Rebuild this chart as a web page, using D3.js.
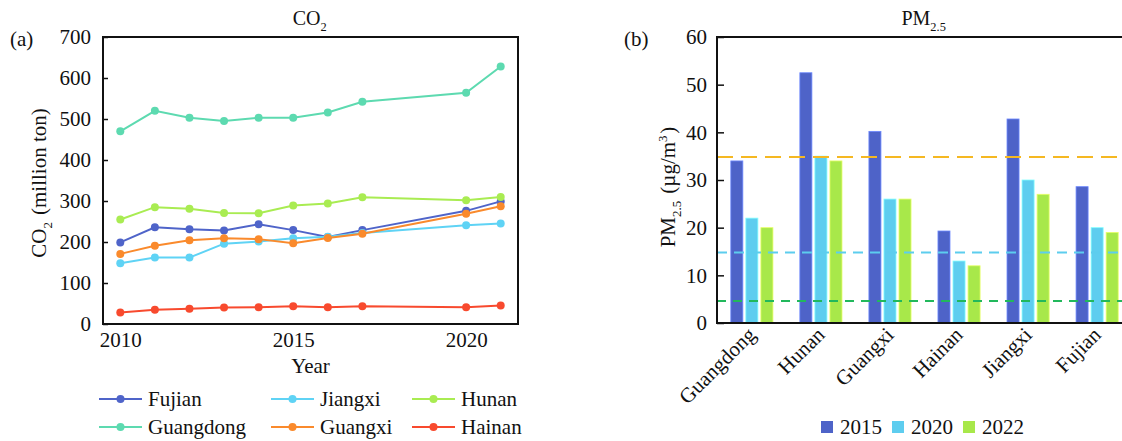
<!DOCTYPE html>
<html>
<head>
<meta charset="utf-8">
<script src="https://cdn.jsdelivr.net/npm/d3@7"></script>
<style>
  body { margin: 0; background: #fff; }
  svg text { font-family: "Liberation Serif", "Times New Roman", serif !important; fill: #111; }
</style>
</head>
<body>
<svg id="chart" width="1122" height="441"></svg>
<script>
// ---- Panel (a): CO2 emissions by province ----
const years = [2010, 2011, 2012, 2013, 2014, 2015, 2016, 2017, 2020, 2021];
const fujian    = [199, 236, 231, 228, 243, 229, 212, 229, 276, 299];
const jiangxi   = [148, 162, 162, 196, 201, 209, 213, 222, 241, 245];
const hunan     = [255, 285, 281, 271, 270, 289, 294, 309, 302, 310];
const guangdong = [470, 520, 503, 495, 503, 503, 516, 542, 564, 628];
const guangxi   = [171, 191, 204, 209, 207, 197, 210, 220, 269, 287];
const hainan    = [28, 35, 37, 40, 41, 43, 41, 43, 41, 45];
const provinces = ["Fujian", "Jiangxi", "Hunan", "Guangdong", "Guangxi", "Hainan"];
const provinceColors = ["#4f64c9", "#5fd3f5", "#a9ec52", "#5ddab0", "#fa8a2c", "#f84a2e"];
const co2Ticks = [0, 100, 200, 300, 400, 500, 600, 700];
const yearTicks = [2010, 2015, 2020];

// ---- Panel (b): PM2.5 concentration by province ----
const pmCities = ["Guangdong", "Hunan", "Guangxi", "Hainan", "Jiangxi", "Fujian"];
const pmYears = ["2015", "2020", "2022"];
const pm2015 = [34, 52.5, 40.2, 19.3, 42.8, 28.6];
const pm2020 = [22, 35, 26, 13, 30, 20];
const pm2022 = [20, 34, 26, 12, 27, 19];
const pmYearColors = ["#4e63c8", "#5ecdef", "#a8e84a"];
const pmTicks = [0, 10, 20, 30, 40, 50, 60];
const guideValues = [34.8, 14.8, 4.6];
const guideColors = ["#f5b822", "#5ccdee", "#22b85c"];

const svg = d3.select("#chart");
const FS = 21;
const SERIF = '"Liberation Serif", "Times New Roman", serif';

// helper: text with a subscript/superscript run
function richText(sel, parts, size) {
  sel.style("font-family", SERIF);
  parts.forEach(p => {
    if (p.sub) {
      sel.append("tspan").attr("font-size", size * 0.62).attr("dy", size * 0.28).text(p.t);
      sel.append("tspan").attr("font-size", size).attr("dy", -size * 0.28).text("\u200A");
    } else if (p.sup) {
      sel.append("tspan").attr("font-size", size * 0.62).attr("dy", -size * 0.38).text(p.t);
      sel.append("tspan").attr("font-size", size).attr("dy", size * 0.38).text("\u200A");
    } else {
      sel.append("tspan").attr("font-size", size).text(p.t);
    }
  });
}

function styleAxisText(g) {
  g.attr("font-family", null);
  g.selectAll("text")
    .attr("font-size", FS)
    .style("font-family", SERIF)
    .style("fill", "#111");
}

// ================= Panel (a) =================
const A = { left: 103, right: 518, top: 37, bottom: 324 };
const xA = d3.scaleLinear().domain([2009.5, 2021.5]).range([A.left, A.right]);
const yA = d3.scaleLinear().domain([0, 700]).range([A.bottom, A.top]);

const gA = svg.append("g");

const seriesA = [fujian, jiangxi, hunan, guangdong, guangxi, hainan];
const line = d3.line().x((d, i) => xA(years[i])).y(d => yA(d));

seriesA.forEach((vals, k) => {
  gA.append("path").datum(vals)
    .attr("d", line)
    .attr("fill", "none")
    .attr("stroke", provinceColors[k])
    .attr("stroke-width", 2);
  gA.selectAll(null).data(vals).enter().append("circle")
    .attr("cx", (d, i) => xA(years[i]))
    .attr("cy", d => yA(d))
    .attr("r", 4)
    .attr("fill", provinceColors[k]);
});

// y axis (inward ticks)
const yAxisA = d3.axisLeft(yA).tickValues(co2Ticks).tickSize(-5).tickPadding(12);
gA.append("g").attr("transform", `translate(${A.left},0)`).call(yAxisA)
  .call(g => g.select(".domain").remove())
  .call(g => g.selectAll(".tick line").attr("stroke", "#111").attr("stroke-width", 1.5))
  .call(styleAxisText);

// x axis labels
const xAxisA = d3.axisBottom(xA).tickValues(yearTicks).tickFormat(d3.format("d")).tickSize(0).tickPadding(8);
gA.append("g").attr("transform", `translate(0,${A.bottom})`).call(xAxisA)
  .call(g => g.select(".domain").remove())
  .call(styleAxisText);

// frame
gA.append("rect").attr("x", A.left).attr("y", A.top)
  .attr("width", A.right - A.left).attr("height", A.bottom - A.top)
  .attr("fill", "none").attr("stroke", "#111").attr("stroke-width", 2);

// titles
richText(gA.append("text").attr("x", (A.left + A.right) / 2).attr("y", 25).attr("text-anchor", "middle"),
  [{ t: "CO" }, { t: "2", sub: true }], 20);
gA.append("text").attr("x", 10).attr("y", 46).attr("font-size", FS).style("font-family", SERIF).text("(a)");
gA.append("text").attr("x", (A.left + A.right) / 2).attr("y", 373).attr("text-anchor", "middle")
  .attr("font-size", FS).style("font-family", SERIF).text("Year");
richText(gA.append("text").attr("transform", `translate(46,183) rotate(-90)`).attr("text-anchor", "middle"),
  [{ t: "CO" }, { t: "2", sub: true }, { t: " (million ton)" }], FS);

// legend
const legendA = gA.append("g");
const legCols = [99, 271, 412];
const legRows = [399, 427];
provinces.forEach((name, k) => {
  const lx = legCols[k % 3], ly = legRows[Math.floor(k / 3)];
  const item = legendA.append("g").attr("transform", `translate(${lx},${ly})`);
  item.append("line").attr("x1", 0).attr("x2", 43).attr("y1", 0).attr("y2", 0)
    .attr("stroke", provinceColors[k]).attr("stroke-width", 2);
  item.append("circle").attr("cx", 21.5).attr("cy", 0).attr("r", 4).attr("fill", provinceColors[k]);
  item.append("text").attr("x", 49).attr("y", 7).attr("font-size", FS).style("font-family", SERIF).text(name);
});

// ================= Panel (b) =================
const B = { left: 717, right: 1132, top: 37, bottom: 323 };
const x0 = d3.scaleBand().domain(pmCities).range([B.left, B.right]).paddingInner(0.39).paddingOuter(0.2);
const x1 = d3.scaleBand().domain(pmYears).range([0, x0.bandwidth()]).paddingInner(0.2).paddingOuter(0);
const yB = d3.scaleLinear().domain([0, 60]).range([B.bottom, B.top]);

const gB = svg.append("g");
const pmSeries = [pm2015, pm2020, pm2022];

pmCities.forEach((city, i) => {
  const grp = gB.append("g").attr("transform", `translate(${x0(city)},0)`);
  pmYears.forEach((yr, j) => {
    const v = pmSeries[j][i];
    grp.append("rect")
      .attr("x", x1(yr)).attr("y", yB(v))
      .attr("width", x1.bandwidth()).attr("height", yB(0) - yB(v))
      .attr("fill", pmYearColors[j])
      .attr("stroke", d3.color(pmYearColors[j]).brighter(0.9))
      .attr("stroke-width", 0.8);
  });
});

// guideline dashed lines
const guideDash = ["16,8", "10,7", "9,7"];
guideValues.forEach((v, k) => {
  gB.append("line").attr("x1", B.left).attr("x2", B.right)
    .attr("y1", yB(v)).attr("y2", yB(v))
    .attr("stroke", guideColors[k]).attr("stroke-width", 2)
    .attr("stroke-dasharray", guideDash[k]);
});

// y axis
const yAxisB = d3.axisLeft(yB).tickValues(pmTicks).tickSize(-7).tickPadding(10);
gB.append("g").attr("transform", `translate(${B.left},0)`).call(yAxisB)
  .call(g => g.select(".domain").remove())
  .call(g => g.selectAll(".tick line").attr("stroke", "#111").attr("stroke-width", 1.5))
  .call(styleAxisText);

// category labels (rotated)
gB.selectAll(null).data(pmCities).enter().append("text")
  .attr("transform", d => `translate(${x0(d) + x0.bandwidth() / 2 + 5},${B.bottom + 13}) rotate(-45)`)
  .attr("text-anchor", "end")
  .attr("font-size", FS)
  .style("font-family", SERIF)
  .text(d => d);

// frame (left, top, bottom)
gB.append("path")
  .attr("d", `M${B.right},${B.top}H${B.left}V${B.bottom}H${B.right}`)
  .attr("fill", "none").attr("stroke", "#111").attr("stroke-width", 2);

// titles
richText(gB.append("text").attr("x", (B.left + B.right) / 2).attr("y", 25).attr("text-anchor", "middle"),
  [{ t: "PM" }, { t: "2.5", sub: true }], 20);
gB.append("text").attr("x", 624).attr("y", 46).attr("font-size", FS).style("font-family", SERIF).text("(b)");
richText(gB.append("text").attr("transform", `translate(675,187) rotate(-90)`).attr("text-anchor", "middle"),
  [{ t: "PM" }, { t: "2.5", sub: true }, { t: " (\u00B5g/m" }, { t: "3", sup: true }, { t: ")" }], FS);

// legend
const legendB = gB.append("g");
pmYears.forEach((yr, j) => {
  const lx = 821 + j * 71;
  legendB.append("rect").attr("x", lx).attr("y", 421).attr("width", 12).attr("height", 12)
    .attr("fill", pmYearColors[j]);
  legendB.append("text").attr("x", lx + 19).attr("y", 434).attr("font-size", FS).style("font-family", SERIF).text(yr);
});
</script>
</body>
</html>
